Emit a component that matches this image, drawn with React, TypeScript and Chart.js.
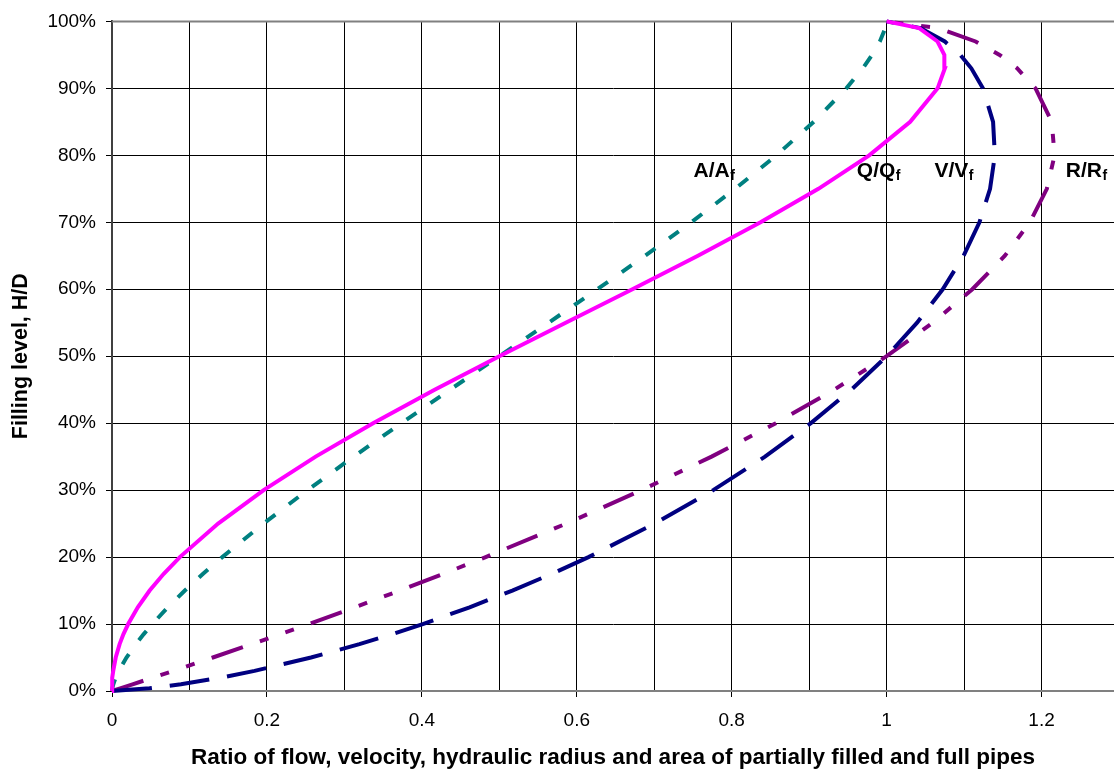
import React, { useEffect, useRef } from "react";
import { Chart, registerables } from "chart.js";

Chart.register(...registerables);

// Filling level H/D (y axis)
const fillLevel = [0, 0.004, 0.01, 0.02, 0.03, 0.05, 0.07, 0.085, 0.1, 0.125, 0.15, 0.175, 0.2, 0.25, 0.3, 0.35, 0.4, 0.45, 0.5, 0.55, 0.6, 0.65, 0.7, 0.75, 0.8, 0.85, 0.9, 0.93, 0.95, 0.97, 0.99, 1.0];

// Q/Qf – flow ratio
const flowRatio = [0, 0.00002, 0.00015, 0.00067, 0.00161, 0.0048, 0.00983, 0.0148, 0.0209, 0.0333, 0.0486, 0.0668, 0.0876, 0.137, 0.1958, 0.2629, 0.337, 0.4165, 0.5, 0.5857, 0.6718, 0.7564, 0.8372, 0.9119, 0.9775, 1.0304, 1.0658, 1.0752, 1.0745, 1.0657, 1.042, 1.0];

// V/Vf – velocity ratio
const velocityRatio = [0, 0.0484, 0.089, 0.1408, 0.184, 0.2569, 0.3194, 0.3618, 0.4012, 0.4616, 0.5168, 0.5678, 0.6151, 0.7007, 0.7761, 0.843, 0.9022, 0.9544, 1.0, 1.0393, 1.0724, 1.0993, 1.1198, 1.1335, 1.1397, 1.1374, 1.1243, 1.1093, 1.095, 1.0751, 1.0437, 1.0];

// R/Rf – hydraulic radius ratio
const radiusRatio = [0, 0.0106, 0.0265, 0.0528, 0.0789, 0.1302, 0.1805, 0.2176, 0.2541, 0.3136, 0.3715, 0.4278, 0.4824, 0.5865, 0.6838, 0.774, 0.8569, 0.9323, 1.0, 1.0596, 1.1106, 1.1526, 1.1849, 1.2068, 1.2168, 1.2131, 1.1922, 1.1684, 1.1458, 1.1148, 1.0663, 1.0];

// A/Af – area ratio
const areaRatio = [0, 0.00043, 0.00169, 0.00477, 0.00874, 0.01869, 0.03077, 0.04098, 0.05204, 0.07215, 0.09406, 0.11757, 0.14238, 0.1955, 0.25232, 0.31192, 0.37353, 0.43644, 0.5, 0.56356, 0.62647, 0.68808, 0.74768, 0.8045, 0.85762, 0.90594, 0.94796, 0.96922, 0.98131, 0.99125, 0.99831, 1.0];

// In-plot curve labels (main text + subscript) anchored in data units
const curveLabels = [
  { main: "A/A", sub: "f", x: 0.7507, y: 0.767 },
  { main: "Q/Q", sub: "f", x: 0.9615, y: 0.767 },
  { main: "V/V", sub: "f", x: 1.0617, y: 0.767 },
  { main: "R/R", sub: "f", x: 1.2312, y: 0.767 },
];

const xTitle = "Ratio of flow, velocity, hydraulic radius and area of partially filled and full pipes";
const yTitle = "Filling level, H/D";

const FONT = "'Liberation Sans', Arial, Helvetica, sans-serif";

const toPoints = (xs: number[]) => xs.map((x, i) => ({ x, y: fillLevel[i] }));

const overlayPlugin = {
  id: "overlay",
  beforeDatasetsDraw(chart: any) {
    const { ctx, chartArea } = chart;
    ctx.save();
    ctx.strokeStyle = "#808080";
    ctx.lineWidth = 2;
    ctx.beginPath();
    ctx.moveTo(chartArea.left, chartArea.top);
    ctx.lineTo(chartArea.right, chartArea.top);
    ctx.stroke();
    ctx.restore();
  },
  afterDraw(chart: any) {
    const { ctx, scales } = chart;
    const xs = scales.x;
    const ys = scales.y;
    ctx.save();
    ctx.fillStyle = "#000";
    ctx.textBaseline = "alphabetic";
    ctx.textAlign = "left";
    for (const l of curveLabels) {
      const px = xs.getPixelForValue(l.x);
      const py = ys.getPixelForValue(l.y);
      ctx.font = `bold 21px ${FONT}`;
      ctx.fillText(l.main, px, py);
      const w = ctx.measureText(l.main).width;
      ctx.font = `bold 14px ${FONT}`;
      ctx.fillText(l.sub, px + w + 0.5, py + 3);
    }
    ctx.restore();
  },
};

export default function App() {
  const ref = useRef<HTMLCanvasElement | null>(null);
  useEffect(() => {
    document.body.style.margin = "0";
    const canvas = ref.current;
    if (!canvas) return;
    const line = (label: string, values: number[], color: string, dash: number[]) => ({
      label,
      data: toPoints(values),
      showLine: true,
      borderColor: color,
      backgroundColor: color,
      borderWidth: 4,
      borderDash: dash,
      borderCapStyle: "butt",
      pointRadius: 0,
      tension: 0,
      clip: false,
    });
    const chart = new Chart(canvas, {
      type: "scatter",
      data: {
        datasets: [
          line("Q/Qf", flowRatio, "#FF00FF", []),
          line("V/Vf", velocityRatio, "#000080", [40, 18]),
          line("R/Rf", radiusRatio, "#800080", [33, 18, 9, 18, 9, 18]),
          line("A/Af", areaRatio, "#008080", [12, 17]),
        ],
      },
      options: {
        responsive: false,
        maintainAspectRatio: false,
        animation: false,
        devicePixelRatio: 1,
        layout: { padding: { top: 19, right: 0, left: 0, bottom: 0 } },
        plugins: {
          legend: { display: false },
          tooltip: { enabled: false },
        },
        scales: {
          x: {
            type: "linear",
            min: 0,
            max: 1.2935,
            afterFit: (scale: any) => {
              scale.height = 78;
            },
            ticks: {
              stepSize: 0.1,
              includeBounds: false,
              autoSkip: false,
              maxRotation: 0,
              padding: 12,
              color: "#000",
              font: { family: FONT, size: 19 },
              callback: (v: any) => {
                const r = Math.round(Number(v) * 10);
                return r % 2 === 0 ? String(r / 10) : "";
              },
            },
            grid: {
              color: "#000",
              lineWidth: 1,
              tickLength: 6,
              tickColor: (c: any) =>
                c.tick && Math.round(c.tick.value * 10) % 2 === 0 ? "#000" : "rgba(0,0,0,0)",
            },
            border: { display: true, color: "#808080", width: 2 },
            title: {
              display: true,
              text: xTitle,
              color: "#000",
              font: { family: FONT, size: 22.5, weight: "bold", lineHeight: 1 },
              padding: { top: 0, bottom: 0 },
            },
          },
          y: {
            type: "linear",
            min: 0,
            max: 1,
            afterFit: (scale: any) => {
              scale.width = 112;
            },
            ticks: {
              stepSize: 0.1,
              padding: 10,
              color: "#000",
              font: { family: FONT, size: 19 },
              callback: (v: any) => Math.round(Number(v) * 100) + "%",
            },
            grid: {
              color: "#000",
              lineWidth: 1,
              tickLength: 6,
              tickColor: "#000",
            },
            border: { display: true, color: "#404040", width: 2 },
            title: {
              display: true,
              text: yTitle,
              color: "#000",
              font: { family: FONT, size: 21.5, weight: "bold", lineHeight: 1 },
              padding: { top: 10, bottom: 0 },
            },
          },
        },
      },
      plugins: [overlayPlugin],
    } as any);
    return () => chart.destroy();
  }, []);
  return (
    <div style={{ width: 1114, height: 769 }}>
      <canvas ref={ref} width={1114} height={769} style={{ display: "block" }} />
    </div>
  );
}
